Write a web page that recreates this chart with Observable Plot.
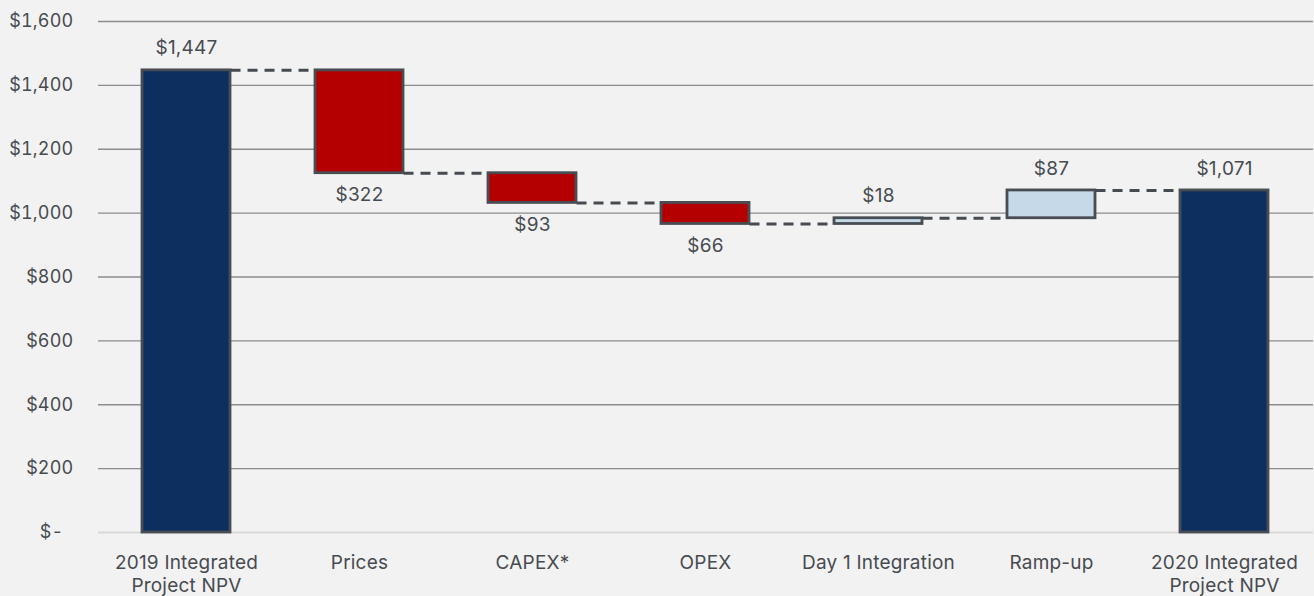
<!DOCTYPE html>
<html>
<head>
<meta charset="utf-8">
<script src="https://cdn.jsdelivr.net/npm/d3@7"></script>
<script src="https://cdn.jsdelivr.net/npm/@observablehq/plot@0.6"></script>
<style>
  html, body { margin: 0; padding: 0; background: #f2f2f2; }
  #chart svg { display: block; }
</style>
</head>
<body>
<div id="chart"></div>
<script>
const categories = ["2019 Integrated\nProject NPV", "Prices", "CAPEX*", "OPEX", "Day 1 Integration", "Ramp-up", "2020 Integrated\nProject NPV"];
const changes = [1447, -322, -93, -66, 18, 87, 1071];
const kinds = ["total", "decrease", "decrease", "decrease", "increase", "increase", "total"];
const labels = ["$1,447", "$322", "$93", "$66", "$18", "$87", "$1,071"];
const yTicks = [0, 200, 400, 600, 800, 1000, 1200, 1400, 1600];

// build waterfall table
let run = 0;
const rows = categories.map((c, i) => {
  let y1, y2;
  if (kinds[i] === "total") { y1 = 0; y2 = changes[i]; run = changes[i]; }
  else { y1 = run; y2 = run + changes[i]; run = y2; }
  return { cat: c, y1, y2, kind: kinds[i], label: labels[i], end: run,
           top: Math.max(y1, y2), bottom: Math.min(y1, y2) };
});
const links = rows.slice(0, -1).map((r, i) => ({ a: r.cat, b: rows[i + 1].cat, y: r.end }));

const W = 1314, ML = 98, MR = 1;
const padIn = 0.49, padOut = 0.245;
const bw = d3.scaleBand(categories, [ML, W - MR]).paddingInner(padIn).paddingOuter(padOut).bandwidth();

const colors = { total: "#0c2f5f", decrease: "#b50000", increase: "#c5d9e8" };
const textColor = "#474b50";
const font = "Inter, 'Noto Sans', sans-serif";

const plot = Plot.plot({
  width: W,
  height: 596,
  marginTop: 21,
  marginBottom: 64,
  marginLeft: ML,
  marginRight: MR,
  style: { background: "#f2f2f2", fontFamily: font, color: textColor, letterSpacing: "0.2px" },
  x: { domain: categories, paddingInner: padIn, paddingOuter: padOut, label: null },
  y: { domain: [0, 1600], label: null },
  marks: [
    Plot.ruleY(yTicks.filter(d => d > 0), { stroke: "#8c8c8c", strokeWidth: 1.3 }),
    Plot.ruleY([0], { stroke: "#d9d9d9", strokeWidth: 2 }),
    Plot.axisY({ ticks: yTicks, tickSize: 0, tickPadding: 25, fontSize: 18,
      tickFormat: d => d === 0 ? "$-\u00a0\u00a0" : "$" + d3.format(",")(d), fill: textColor }),
    Plot.axisX({ tickSize: 0, tickPadding: 20, fontSize: 19, lineHeight: 1.22, fill: textColor }),
    Plot.ruleY(links, { x1: "a", x2: "b", y: "y", insetLeft: bw, insetRight: bw,
      stroke: "#464b52", strokeWidth: 3, strokeDasharray: "10,7" }),
    Plot.barY(rows, { x: "cat", y1: "y1", y2: "y2", fill: d => colors[d.kind],
      stroke: "#484d54", strokeWidth: 2.8 }),
    Plot.text(rows.filter(d => d.kind !== "decrease"), { x: "cat", y: "top", text: "label",
      dy: -22, fontSize: 19, fill: textColor }),
    Plot.text(rows.filter(d => d.kind === "decrease"), { x: "cat", y: "bottom", text: "label",
      dy: 22, fontSize: 19, fill: textColor })
  ]
});
document.getElementById("chart").appendChild(plot);
</script>
</body>
</html>
